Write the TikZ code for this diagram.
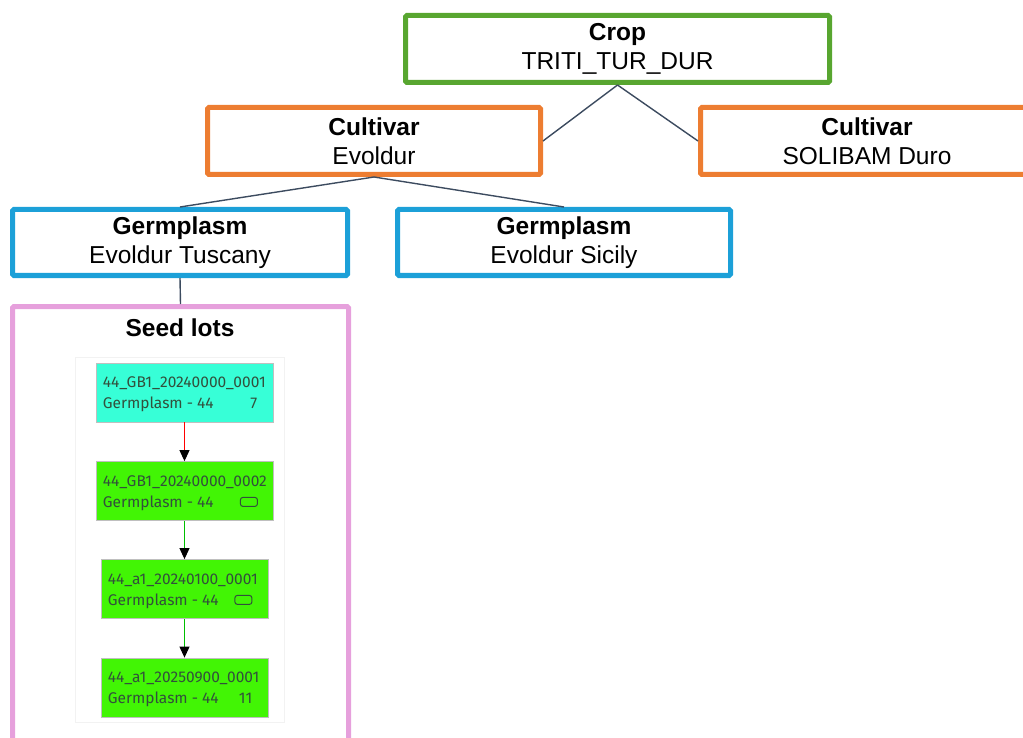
\documentclass[tikz,border=0pt]{standalone}
\usepackage{fontspec}
\setmainfont{Liberation Sans}
\newfontfamily\lotfont{Fira Sans}
\usetikzlibrary{arrows.meta}

\definecolor{cropgreen}{RGB}{88,166,48}
\definecolor{cvorange}{RGB}{237,125,49}
\definecolor{gpblue}{RGB}{28,160,216}
\definecolor{lotpink}{RGB}{230,160,220}
\definecolor{linkgray}{RGB}{60,75,95}
\definecolor{lotcyan}{RGB}{55,255,215}
\definecolor{lotgreen}{RGB}{66,245,5}
\definecolor{lotink}{RGB}{50,80,60}

\begin{document}
\begin{tikzpicture}[x=1pt, y=-1pt,
    level/.style={draw, line width=5pt, rounded corners=1.5pt, fill=white,
        minimum height=67pt, align=center, font=\fontsize{24.5}{29}\selectfont},
    link/.style={linkgray, line width=1.4pt},
    lotbox/.style={draw=black!25, line width=0.8pt, minimum height=59pt},
    lottext/.style={lotink, font=\lotfont\fontsize{15.5}{18}\selectfont, inner sep=0pt, anchor=base west},
    lotnum/.style={lottext, anchor=base east},
    lottag/.style={draw=lotink, line width=1pt, rounded corners=2.5pt, minimum width=17pt, minimum height=9pt, inner sep=0pt},
    lotarrow/.style={line width=1pt, -{Triangle[color=black, width=10pt, length=11pt]}}]
    \useasboundingbox (0,0) rectangle (1023,738);
    \clip (0,0) rectangle (1023,738);

    % Crop level
    \node[level, draw=cropgreen, minimum width=424pt] (crop) at (617.5,49) {\textbf{Crop}\\TRITI\_TUR\_DUR};

    % Cultivars
    \node[level, draw=cvorange, minimum width=333pt] (cvEvoldur) at (374,141) {\textbf{Cultivar}\\Evoldur};
    \node[level, draw=cvorange, minimum width=333pt] (cvSolibam) at (867,141) {\textbf{Cultivar}\\SOLIBAM Duro};

    % Germplasms
    \node[level, draw=gpblue, minimum width=335pt, minimum height=66pt] (gpTuscany) at (180,242.5) {\textbf{Germplasm}\\Evoldur Tuscany};
    \node[level, draw=gpblue, minimum width=333pt, minimum height=66pt] (gpSicily) at (564,242.5) {\textbf{Germplasm}\\Evoldur Sicily};

    % Seed lots frame
    \node[draw=lotpink, line width=5pt, rounded corners=1.5pt, minimum width=336pt, minimum height=435pt] (seedlots) at (180.5,524) {};
    \node[font=\fontsize{24.5}{29}\selectfont\bfseries] (seedtitle) at (180,328) {Seed lots};
    \node[draw=black!5, line width=0.6pt, minimum width=209pt, minimum height=365pt] (panel) at (179.5,539.5) {};

    % Hierarchy links
    \draw[link] (crop.south) -- (cvEvoldur.east);
    \draw[link] (crop.south) -- (cvSolibam.west);
    \draw[link] (cvEvoldur.south) -- (gpTuscany.north);
    \draw[link] (cvEvoldur.south) -- (gpSicily.north);
    \draw[link] (gpTuscany.south) -- (seedlots.north);

    % Seed lot boxes
    \node[lotbox, fill=lotcyan, minimum width=177pt] (lot1) at (184.5,392.5) {};
    \node[lotbox, fill=lotgreen, minimum width=177pt] (lot2) at (184.5,491) {};
    \node[lotbox, fill=lotgreen, minimum width=167pt] (lot3) at (184.5,589) {};
    \node[lotbox, fill=lotgreen, minimum width=167pt] (lot4) at (184.5,687.5) {};

    % Seed lot texts
    \node[lottext] (id1) at ([shift={(7,25)}]lot1.north west) {44\_GB1\_20240000\_0001};
    \node[lottext] (gp1) at ([shift={(7,46)}]lot1.north west) {Germplasm - 44};
    \node[lotnum] (n1) at ([shift={(-16,46)}]lot1.north east) {7};
    \node[lottext] (id2) at ([shift={(7,25)}]lot2.north west) {44\_GB1\_20240000\_0002};
    \node[lottext] (gp2) at ([shift={(7,46)}]lot2.north west) {Germplasm - 44};
    \node[lottag] (tag2) at ([shift={(-24.5,-19)}]lot2.south east) {};
    \node[lottext] (id3) at ([shift={(7,25)}]lot3.north west) {44\_a1\_20240100\_0001};
    \node[lottext] (gp3) at ([shift={(7,46)}]lot3.north west) {Germplasm - 44};
    \node[lottag] (tag3) at ([shift={(-25,-19)}]lot3.south east) {};
    \node[lottext] (id4) at ([shift={(7,25)}]lot4.north west) {44\_a1\_20250900\_0001};
    \node[lottext] (gp4) at ([shift={(7,46)}]lot4.north west) {Germplasm - 44};
    \node[lotnum] (n4) at ([shift={(-16,46)}]lot4.north east) {11};

    % Seed lot arrows
    \draw[lotarrow, red] (lot1.south) -- (lot2.north);
    \draw[lotarrow, green!75!black] (lot2.south) -- (lot3.north);
    \draw[lotarrow, green!75!black] (lot3.south) -- (lot4.north);
\end{tikzpicture}
\end{document}
